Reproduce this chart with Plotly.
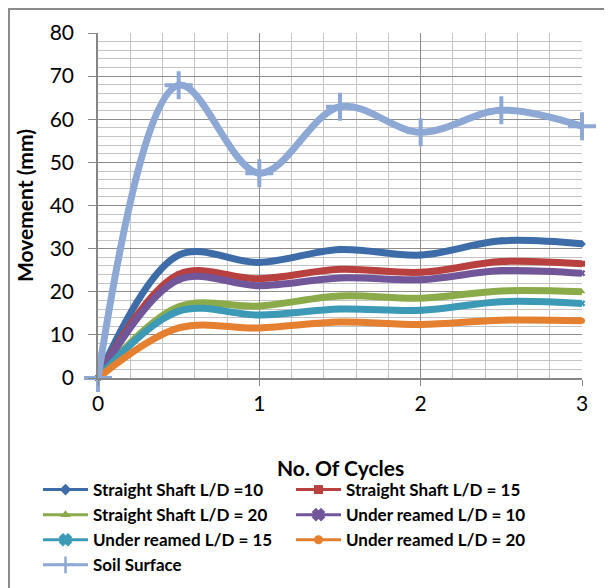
import plotly.graph_objects as go

cycles = [0, 0.5, 1, 1.5, 2, 2.5, 3]
ss_10 = [0, 28.5, 26.8, 29.8, 28.5, 31.8, 31.1]
ss_15 = [0, 24.0, 23.0, 25.2, 24.5, 27.0, 26.5]
ss_20 = [0, 16.5, 16.7, 19.0, 18.5, 20.2, 20.0]
ur_10 = [0, 22.8, 21.4, 23.2, 22.8, 24.9, 24.3]
ur_15 = [0, 15.5, 14.6, 16.0, 15.7, 17.7, 17.3]
ur_20 = [0, 11.6, 11.6, 13.0, 12.4, 13.4, 13.3]
soil = [0, 67.9, 47.5, 62.9, 57.0, 62.1, 58.4]

series = [
    ("Straight Shaft L/D =10", ss_10, "#3E6CA8", "diamond", 6),
    ("Straight Shaft L/D = 15", ss_15, "#B8413F", "square", 6),
    ("Straight Shaft L/D = 20", ss_20, "#8BAA4A", "triangle-up", 6),
    ("Under reamed L/D = 10", ur_10, "#72569A", "x", 6),
    ("Under reamed L/D = 15", ur_15, "#3C9AB6", "x", 6),
    ("Under reamed L/D = 20", ur_20, "#E4802F", "circle", 6),
    ("Soil Surface", soil, "#8DA8D5", "cross-thin", 20),
]

fig = go.Figure()
for name, vals, col, sym, size in series:
    fig.add_trace(go.Scatter(
        x=cycles, y=vals, name=name, mode="lines+markers", showlegend=False,
        line=dict(color=col, width=7, shape="spline", smoothing=1),
        marker=dict(symbol=sym, size=size, color=col,
                    line=dict(color=col, width=4 if sym == "cross-thin" else 0)),
        cliponaxis=False,
    ))
# legend entries (thin line samples like the original legend)
for name, vals, col, sym, size in series:
    fig.add_trace(go.Scatter(
        x=[None], y=[None], name=name, mode="lines+markers", showlegend=True,
        line=dict(color=col, width=3),
        marker=dict(symbol=sym, size=9 if sym != "cross-thin" else 12, color=col,
                    line=dict(color=col, width=2.5 if sym in ("cross-thin", "x") else 0)),
    ))

font_family = "Lato, 'Open Sans', sans-serif"
W, H = 612, 588
OFF = 8  # page body margin
L, R, T, B = 98 - OFF, 612 - 582 + OFF, 33 - OFF, 588 - 378 + OFF
pw, ph = W - L - R, H - T - B


def px_x(p):
    return (p - OFF - L) / pw


def px_y(p):
    return (H - B - (p - OFF)) / ph


fig.update_layout(
    width=W, height=H,
    margin=dict(l=L, r=R, t=T, b=B, autoexpand=False),
    paper_bgcolor="white", plot_bgcolor="white",
    font=dict(family=font_family, color="#000000"),
    showlegend=True,
    legend=dict(
        orientation="h", x=px_x(38), xanchor="left", y=px_y(472), yanchor="top",
        entrywidth=193, entrywidthmode="pixels",
        font=dict(size=17, family=font_family, weight="bold"),
        itemwidth=45, bgcolor="rgba(0,0,0,0)", tracegroupgap=0,
    ),
    xaxis=dict(
        range=[0, 3], dtick=1, tick0=0, showgrid=True, gridcolor="#8C8C8C", gridwidth=1,
        minor=dict(dtick=0.2, showgrid=True, gridcolor="#C4C4C4", gridwidth=1),
        zeroline=False, showline=True, linecolor="#868686", linewidth=1.5,
        ticks="outside", ticklen=6, tickcolor="#868686",
        tickfont=dict(size=21, family=font_family),
    ),
    yaxis=dict(
        range=[0, 80], dtick=10, showgrid=True, gridcolor="#8C8C8C", gridwidth=1,
        minor=dict(dtick=2, showgrid=True, gridcolor="#C4C4C4", gridwidth=1),
        zeroline=False, showline=True, linecolor="#868686", linewidth=1.5,
        ticks="outside", ticklen=8, tickcolor="#868686", ticklabelstandoff=10,
        tickfont=dict(size=21, family=font_family),
        title=dict(text="<b>Movement (mm)</b>", font=dict(size=21, family=font_family), standoff=10),
    ),
    shapes=[dict(type="rect", xref="paper", yref="paper",
                 x0=px_x(OFF + 1), x1=px_x(660), y0=px_y(OFF + 1), y1=px_y(640),
                 line=dict(color="#8A8A8A", width=2), fillcolor="rgba(0,0,0,0)", layer="below")],
    annotations=[dict(text="<b>No. Of Cycles</b>", xref="paper", yref="paper",
                      x=px_x(340), y=px_y(467), xanchor="center", yanchor="middle",
                      showarrow=False, font=dict(size=21, family=font_family))],
)

fig.write_html("out.html")
